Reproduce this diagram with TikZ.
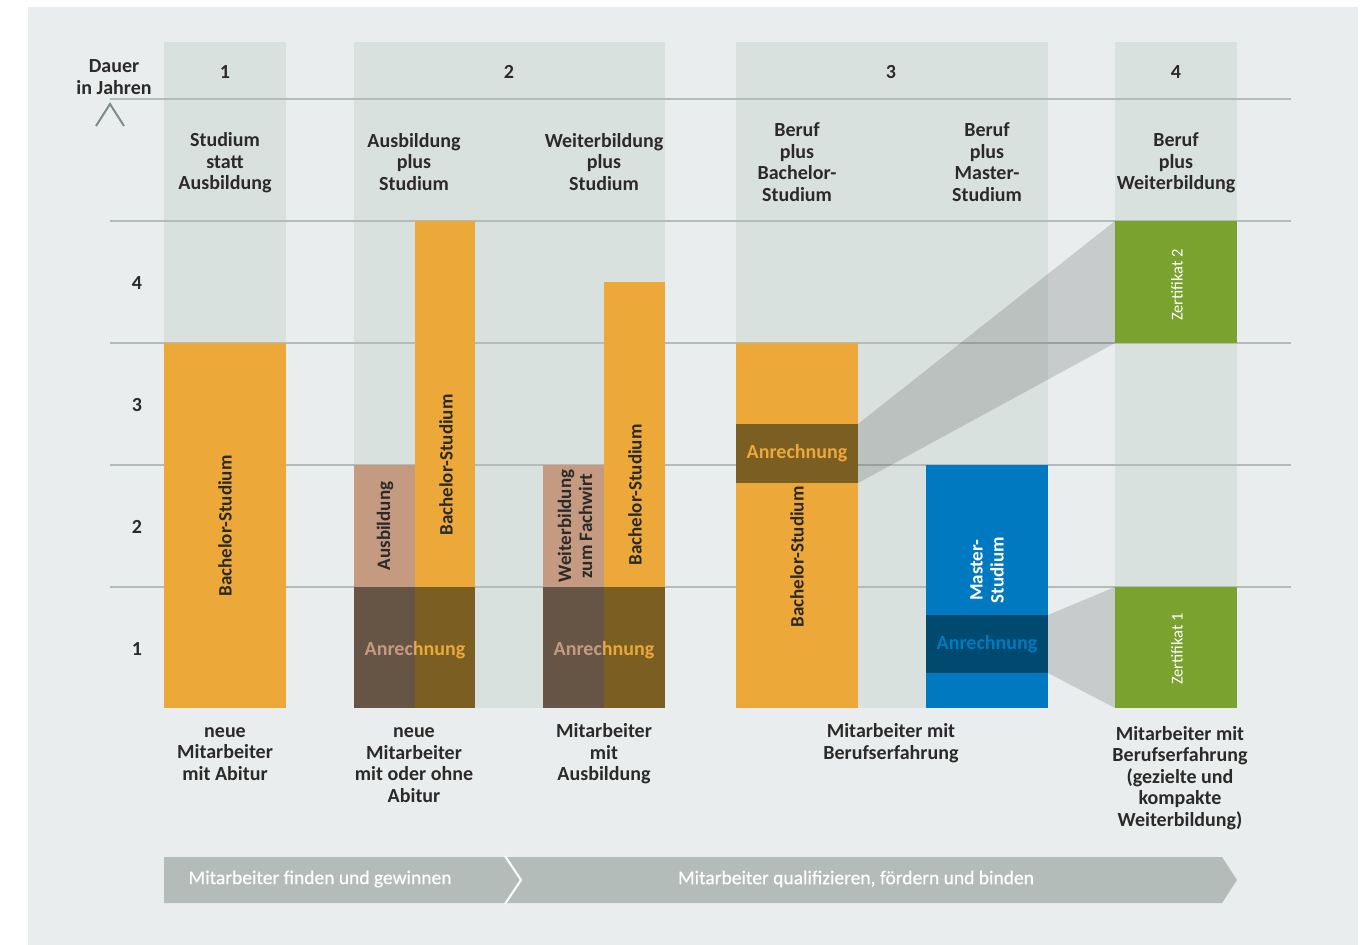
\documentclass[tikz,border=0pt]{standalone}
\usepackage{fontspec}
\setmainfont{Carlito}
\newfontfamily\barfont[FakeBold=0.5]{Carlito}
\definecolor{panel}{HTML}{E9EDEE}
\definecolor{band}{HTML}{D9E1DF}
\definecolor{gridl}{HTML}{B3BCB9}
\definecolor{txt}{HTML}{2B2A29}
\definecolor{orng}{HTML}{EDA83A}
\definecolor{tan}{HTML}{C49A80}
\definecolor{darktan}{HTML}{665545}
\definecolor{darkorng}{HTML}{7B5E22}
\definecolor{blu}{HTML}{0079C1}
\definecolor{darkblu}{HTML}{004A70}
\definecolor{grn}{HTML}{79A22F}
\definecolor{arrowbar}{HTML}{B3BCB9}
\definecolor{chev}{HTML}{7F8C89}
\newcommand\barnode[6]{\node[fill=#2, draw=none, inner sep=0pt, outer sep=0pt, anchor=north west,
  minimum width={(#5-(#3))*1pt}, minimum height={(#6-(#4))*1pt}] (#1) at (#3,#4) {};}
\tikzset{
  lab/.style={font=\bfseries\fontsize{20}{21.5}\selectfont, text=txt, align=center, inner sep=0pt},
  vlab/.style={font=\bfseries\fontsize{19}{21}\selectfont, text=txt, align=center, inner sep=0pt, rotate=90},
  anr/.style={font=\bfseries\fontsize{20}{22}\selectfont, inner sep=0pt},
  zert/.style={font=\fontsize{16.5}{18}\selectfont, text=white, inner sep=0pt, rotate=90},
  gridline/.style={draw=gridl, line width=2.5pt},
  proj/.style={fill=black, fill opacity=0.14, draw=none},
  bartext/.style={font=\barfont\fontsize{19.5}{21}\selectfont, text=white, inner sep=0pt},
}
\begin{document}
\begin{tikzpicture}[x=1pt,y=-1pt]
\useasboundingbox (0,0) rectangle (1369,945);
% panel
\fill[panel] (28,7) rectangle (1358,945);
% column bands
\barnode{band1}{band}{164}{42}{286}{708}
\barnode{band2}{band}{354}{42}{665}{708}
\barnode{band3}{band}{736}{42}{1048}{708}
\barnode{band4}{band}{1115}{42}{1237}{708}
% grid lines
\foreach \yy in {99,221,343,465,587}
  \draw[gridline] (110,\yy) -- (1291,\yy);
% axis chevron
\coordinate (chA) at (96,126);
\coordinate (chB) at (110,104);
\coordinate (chC) at (124,126);
\draw[chev, line width=2pt] (chA) -- (chB) -- (chC);
% header texts
\node[lab] (dauer) at (114,77) {Dauer\\in Jahren};
\node[lab] (n1) at (225,72) {1};
\node[lab] (n2) at (509,72) {2};
\node[lab] (n3) at (891,72) {3};
\node[lab] (n4) at (1176,72) {4};
\node[lab] (h1) at (225,163) {Studium\\statt\\Ausbildung};
\node[lab] (h2) at (414,162) {Ausbildung\\plus\\Studium};
\node[lab] (h3) at (604,162) {Weiterbildung\\plus\\Studium};
\node[lab] (h4) at (797,162) {Beruf\\plus\\Bachelor-\\Studium};
\node[lab] (h5) at (987,162) {Beruf\\plus\\Master-\\Studium};
\node[lab] (h6) at (1176,163) {Beruf\\plus\\Weiterbildung};
% y labels
\node[lab] (y4) at (137,283) {4};
\node[lab] (y3) at (137,405) {3};
\node[lab] (y2) at (137,527) {2};
\node[lab] (y1) at (137,649) {1};
% column 1
\barnode{bs1}{orng}{164}{343}{286}{708}
\node[vlab] (bs1t) at (225,526) {Bachelor-Studium};
% column 2a
\barnode{aus}{tan}{354}{465}{415}{587}
\barnode{ausA}{darktan}{354}{587}{415}{708}
\barnode{bs2}{orng}{415}{221}{475}{587}
\barnode{bs2A}{darkorng}{415}{587}{475}{708}
\node[vlab] (aust) at (385,526) {Ausbildung};
\node[vlab] (bs2t) at (446,465) {Bachelor-Studium};
\begin{scope}
  \clip (354,587) rectangle (415,708);
  \node[anr, text=tan] (anr2l) at (415,650) {Anrechnung};
\end{scope}
\begin{scope}
  \clip (415,587) rectangle (475,708);
  \node[anr, text=orng] (anr2r) at (415,650) {Anrechnung};
\end{scope}
% column 2b
\barnode{wb}{tan}{543}{465}{604}{587}
\barnode{wbA}{darktan}{543}{587}{604}{708}
\barnode{bs3}{orng}{604}{282}{665}{587}
\barnode{bs3A}{darkorng}{604}{587}{665}{708}
\node[vlab] (wbt) at (575,526) {Weiterbildung\\zum Fachwirt};
\node[vlab] (bs3t) at (635,495) {Bachelor-Studium};
\begin{scope}
  \clip (543,587) rectangle (604,708);
  \node[anr, text=tan] (anr3l) at (604,650) {Anrechnung};
\end{scope}
\begin{scope}
  \clip (604,587) rectangle (665,708);
  \node[anr, text=orng] (anr3r) at (604,650) {Anrechnung};
\end{scope}
% column 3a
\barnode{bs4}{orng}{736}{343}{858}{708}
\barnode{anrB}{darkorng}{736}{424}{858}{483}
\node[anr, text=orng] (anrBt) at (797,453) {Anrechnung};
\node[vlab] (bs4t) at (797,557) {Bachelor-Studium};
% column 3b
\barnode{ms}{blu}{926}{465}{1048}{708}
\barnode{anrM}{darkblu}{926}{615}{1048}{673}
\node[anr, text=blu] (anrMt) at (987,644) {Anrechnung};
\node[vlab, text=white] (mst) at (987,570) {Master-\\Studium};
% column 4
\barnode{z2}{grn}{1115}{221}{1237}{343}
\barnode{z1}{grn}{1115}{587}{1237}{708}
\node[zert] (z2t) at (1177,285) {Zertifikat 2};
\node[zert] (z1t) at (1177,649) {Zertifikat 1};
% projections
\fill[proj] (anrB.north east) -- (z2.north west) -- (z2.south west) -- (anrB.south east) -- cycle;
\fill[proj] (anrM.north east) -- (z1.north west) -- (z1.south west) -- (anrM.south east) -- cycle;
% bottom labels
\node[lab] (f1) at (225,754) {neue\\Mitarbeiter\\mit Abitur};
\node[lab] (f2) at (414,765) {neue\\Mitarbeiter\\mit oder ohne\\Abitur};
\node[lab] (f3) at (604,754) {Mitarbeiter\\mit\\Ausbildung};
\node[lab] (f4) at (891,743) {Mitarbeiter mit\\Berufserfahrung};
\node[lab] (f5) at (1180,778) {Mitarbeiter mit\\Berufserfahrung\\(gezielte und\\kompakte\\Weiterbildung)};
% bottom arrow bar
\coordinate (aTL) at (164,857);
\coordinate (aTR) at (1222,857);
\coordinate (aTip) at (1237,880);
\coordinate (aBR) at (1222,903);
\coordinate (aBL) at (164,903);
\fill[arrowbar] (aTL) -- (aTR) -- (aTip) -- (aBR) -- (aBL) -- cycle;
\coordinate (sT) at (505,856);
\coordinate (sM) at (521,880);
\coordinate (sB) at (505,904);
\draw[white, line width=2pt] (sT) -- (sM) -- (sB);
\node[bartext] (t1) at (320,879) {Mitarbeiter finden und gewinnen};
\node[bartext] (t2) at (856,879) {Mitarbeiter qualifizieren, fördern und binden};
\end{tikzpicture}
\end{document}
